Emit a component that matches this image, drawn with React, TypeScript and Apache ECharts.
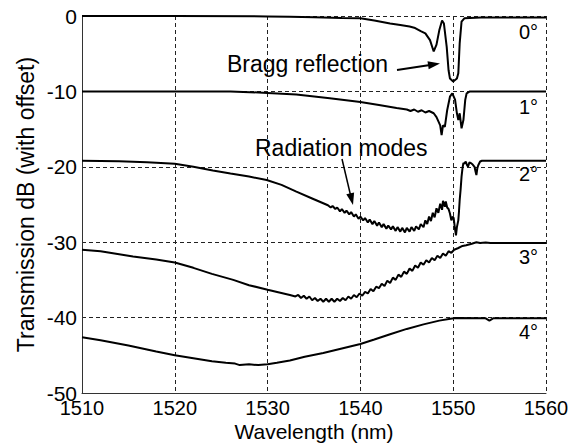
import React, { useEffect, useRef } from "react";
import * as echarts from "echarts";

const xTicks = { min: 1510, max: 1560, interval: 10 };
const yTicks = { min: -50, max: 0, interval: 10 };

const angleLabels = ["0°", "1°", "2°", "3°", "4°"];

const curve0: [number, number][] = [
  [1510, 0], [1520, 0], [1530, -0.05], [1532.4, -0.1], [1535, -0.15], [1538, -0.25], [1540, -0.3],
  [1541.5, -0.6], [1543.2, -1.0], [1544.3, -1.2], [1545.3, -1.4], [1545.9, -1.6], [1546.5, -2.0],
  [1547, -2.3], [1547.5, -3.2], [1547.9, -4.7], [1548.2, -3.8], [1548.5, -1.9], [1548.8, -0.6],
  [1549.0, -1.0], [1549.3, -4.1], [1549.5, -7.2], [1549.65, -8.3], [1550.0, -8.7], [1550.2, -8.5],
  [1550.4, -8.3], [1550.55, -7.6], [1550.7, -3.6], [1550.9, -0.75], [1551.2, -0.3], [1553, -0.2],
  [1556, -0.2], [1560, -0.2],
];

const curve1: [number, number][] = [
  [1510, -10], [1520, -10], [1526, -10.0], [1530, -10.2], [1533.1, -10.4], [1536.7, -10.9],
  [1540, -11.4], [1542, -11.8], [1543.9, -12.2], [1545.0, -12.4], [1545.4, -12.6], [1545.8, -12.4],
  [1546.2, -12.7], [1546.6, -12.5], [1547.0, -12.8], [1547.4, -12.6], [1547.9, -12.9],
  [1548.2, -13.4], [1548.6, -14.5], [1548.75, -15.8], [1548.9, -14.5], [1549.1, -14.7],
  [1549.35, -12.5], [1549.65, -10.7], [1549.9, -10.25], [1550.2, -11.1], [1550.4, -12.9],
  [1550.55, -13.8], [1550.7, -12.9], [1550.9, -14.9], [1551.1, -13.8], [1551.3, -11.1],
  [1551.45, -10.25], [1551.8, -10.0], [1560, -10.0],
];

const curve2: [number, number][] = [
  [1510, -19.2], [1514, -19.25], [1517, -19.4], [1520, -19.6], [1522, -20.0], [1524.1, -20.5],
  [1526, -20.9], [1528, -21.3], [1529.9, -21.75], [1531.5, -22.4], [1533.1, -23.3], [1534.8, -24.2],
  [1536.5, -25.1], [1536.8, -25.4], [1537.0, -25.2], [1537.3, -25.6], [1537.5, -25.4], [1537.8, -25.9],
  [1538.0, -25.6], [1538.3, -26.1], [1538.5, -25.8], [1538.8, -26.3], [1539.0, -26.0], [1539.3, -26.6],
  [1539.5, -26.3], [1539.8, -26.9], [1540.0, -26.6], [1540.3, -27.1], [1540.5, -26.8], [1540.8, -27.4],
  [1541.0, -27.0], [1541.3, -27.6], [1541.5, -27.2], [1541.8, -27.8], [1542.0, -27.4], [1542.3, -28.0],
  [1542.5, -27.6], [1542.8, -28.2], [1543.0, -27.8], [1543.3, -28.3], [1543.5, -27.9], [1543.8, -28.5],
  [1544.0, -28.0], [1544.3, -28.6], [1544.5, -28.1], [1544.8, -28.7], [1545.0, -28.1], [1545.3, -28.6],
  [1545.5, -28.0], [1545.8, -28.5], [1546.0, -27.9], [1546.3, -28.3], [1546.5, -27.6], [1546.8, -28.0],
  [1547.0, -27.1], [1547.2, -27.6], [1547.4, -26.6], [1547.6, -27.2], [1547.8, -26.1], [1548.0, -26.7],
  [1548.2, -25.5], [1548.4, -26.1], [1548.6, -24.9], [1548.8, -25.7], [1548.9, -24.5], [1549.1, -25.3],
  [1549.2, -24.6], [1549.35, -25.4], [1549.5, -25.6], [1549.65, -26.2], [1549.8, -27.1], [1549.95, -26.6],
  [1550.05, -26.8], [1550.2, -28.3], [1550.3, -29.1], [1550.4, -28.0], [1550.55, -27.1], [1550.62, -26.0],
  [1550.7, -24.4], [1550.8, -23.0], [1550.9, -21.3], [1551.0, -20.2], [1551.1, -19.5], [1551.2, -19.6],
  [1551.35, -19.3], [1551.5, -19.8], [1551.6, -20.0], [1551.75, -19.4], [1551.9, -19.5], [1552.1, -19.7],
  [1552.3, -20.0], [1552.4, -20.6], [1552.5, -21.1], [1552.6, -20.2], [1552.7, -19.8], [1552.9, -19.3],
  [1553.1, -19.2], [1560, -19.2],
];

const curve3: [number, number][] = [
  [1510, -31.0], [1512, -31.2], [1515.5, -31.9], [1518, -32.3], [1520, -32.7], [1522, -33.4],
  [1524, -34.2], [1526.3, -35.0], [1528, -35.7], [1530, -36.3], [1532.4, -37.0], [1533.0, -37.2],
  [1533.3, -37.0], [1533.6, -37.4], [1533.9, -37.1], [1534.2, -37.5], [1534.5, -37.2], [1534.8, -37.7],
  [1535.1, -37.4], [1535.4, -37.8], [1535.7, -37.5], [1536.0, -37.9], [1536.3, -37.5], [1536.6, -37.9],
  [1536.9, -37.5], [1537.2, -37.9], [1537.5, -37.5], [1537.8, -37.8], [1538.1, -37.4], [1538.4, -37.7],
  [1538.7, -37.2], [1539.0, -37.5], [1539.3, -37.0], [1539.6, -37.3], [1539.9, -36.8], [1540.2, -37.1],
  [1540.5, -36.6], [1540.8, -36.8], [1541.1, -36.2], [1541.4, -36.5], [1541.7, -35.9], [1542.0, -36.1],
  [1542.3, -35.5], [1542.6, -35.8], [1542.9, -35.1], [1543.2, -35.4], [1543.5, -34.7], [1543.8, -35.0],
  [1544.1, -34.3], [1544.4, -34.6], [1544.7, -33.9], [1545.0, -34.2], [1545.3, -33.5], [1545.6, -33.8],
  [1545.9, -33.1], [1546.2, -33.4], [1546.5, -32.7], [1546.8, -33.0], [1547.1, -32.4], [1547.4, -32.7],
  [1547.7, -32.1], [1548.0, -32.4], [1548.3, -31.8], [1548.6, -32.1], [1548.9, -31.5], [1549.2, -31.8],
  [1549.5, -31.2], [1549.8, -31.4], [1550.1, -31.0], [1550.5, -30.8], [1551.0, -30.5], [1551.4, -30.4],
  [1552.0, -30.2], [1552.5, -30.0], [1552.9, -30.1], [1553.5, -30.05], [1554, -30.1], [1560, -30.1],
];

const curve4: [number, number][] = [
  [1510, -42.6], [1512, -43.0], [1515, -43.7], [1518, -44.5], [1520, -45.0], [1522, -45.4],
  [1524, -45.8], [1525.5, -46.0], [1526.5, -46.1], [1527, -46.3], [1528, -46.2], [1529, -46.3],
  [1530, -46.2], [1531, -46.0], [1532.4, -45.7], [1534, -45.2], [1536, -44.7], [1538, -44.1],
  [1540, -43.5], [1541.5, -42.9], [1543.2, -42.2], [1545, -41.5], [1546.8, -40.9], [1548.5, -40.4],
  [1549.7, -40.15], [1550.3, -40.05], [1553.5, -40.1], [1553.9, -40.4], [1554.3, -40.1], [1560, -40.1],
];

const curves = [curve0, curve1, curve2, curve3, curve4];

const FONT = 'Arial, "Liberation Sans", Helvetica, sans-serif';

export default function App() {
  const ref = useRef<HTMLDivElement>(null);
  useEffect(() => {
    if (!ref.current) return;
    const chart = echarts.init(ref.current, undefined, { renderer: "svg" });
    const labelPos = [33, 108, 175, 258, 333];
    chart.setOption({
      animation: false,
      backgroundColor: "#fff",
      grid: {
        left: 82,
        right: 35,
        top: 16,
        bottom: 50,
        containLabel: false,
        outerBoundsMode: "none",
      },
      xAxis: {
        type: "value",
        min: xTicks.min,
        max: xTicks.max,
        interval: xTicks.interval,
        name: "Wavelength (nm)",
        nameLocation: "middle",
        nameGap: 27.5,
        nameMoveOverlap: false,
        nameTextStyle: { color: "#000", fontSize: 21, lineHeight: 21, fontFamily: FONT },
        axisLine: { show: true, onZero: false, lineStyle: { color: "#333", width: 1 } },
        axisTick: { show: false },
        axisLabel: {
          color: "#000",
          fontSize: 20,
          lineHeight: 20,
          fontFamily: FONT,
          margin: 5,
          formatter: (v: number) => String(v),
        },
        splitLine: { show: true, lineStyle: { color: "#222", width: 1, type: [4, 3] } },
      },
      yAxis: {
        type: "value",
        min: yTicks.min,
        max: yTicks.max,
        interval: yTicks.interval,
        name: "Transmission dB (with offset)",
        nameLocation: "middle",
        nameGap: 45,
        nameRotate: 90,
        nameMoveOverlap: false,
        nameTextStyle: { color: "#000", fontSize: 23, fontFamily: FONT },
        axisLine: { show: true, onZero: false, lineStyle: { color: "#333", width: 1 } },
        axisTick: { show: false },
        axisLabel: {
          color: "#000",
          fontSize: 21,
          lineHeight: 14,
          fontFamily: FONT,
          margin: 5,
          formatter: (v: number) => String(v),
        },
        splitLine: { show: true, lineStyle: { color: "#222", width: 1, type: [4, 3] } },
      },
      series: curves.map((c, i) => ({
        type: "line",
        name: angleLabels[i],
        data: c,
        showSymbol: false,
        symbol: "none",
        lineStyle: { color: "#000", width: 2 },
        z: 3,
      })),
      graphic: [
        ...angleLabels.map((t, i) => ({
          type: "text",
          right: 43,
          top: labelPos[i] - 11,
          style: { text: t, fill: "#000", fontSize: 20, fontFamily: FONT },
          z: 10,
        })),
        {
          type: "text",
          left: 227,
          top: 65 - 13,
          style: { text: "Bragg reflection", fill: "#000", fontSize: 23, fontFamily: FONT },
          z: 10,
        },
        {
          type: "text",
          left: 255,
          top: 149 - 13,
          style: { text: "Radiation modes", fill: "#000", fontSize: 23, fontFamily: FONT },
          z: 10,
        },
        {
          type: "line",
          shape: { x1: 397, y1: 70, x2: 430, y2: 65 },
          style: { stroke: "#000", lineWidth: 2 },
          z: 10,
        },
        {
          type: "polygon",
          shape: { points: [[440, 63.5], [428.7, 69.3], [427.5, 61.3]] },
          style: { fill: "#000" },
          z: 10,
        },
        {
          type: "line",
          shape: { x1: 342, y1: 159, x2: 350.5, y2: 195 },
          style: { stroke: "#000", lineWidth: 1.5 },
          z: 10,
        },
        {
          type: "polygon",
          shape: { points: [[353, 205], [354.1, 192.4], [346.3, 194.2]] },
          style: { fill: "#000" },
          z: 10,
        },
      ],
    });
    return () => chart.dispose();
  }, []);
  return (
    <div
      ref={ref}
      style={{ position: "fixed", left: 0, top: 0, width: 581, height: 443, background: "#fff" }}
    />
  );
}
